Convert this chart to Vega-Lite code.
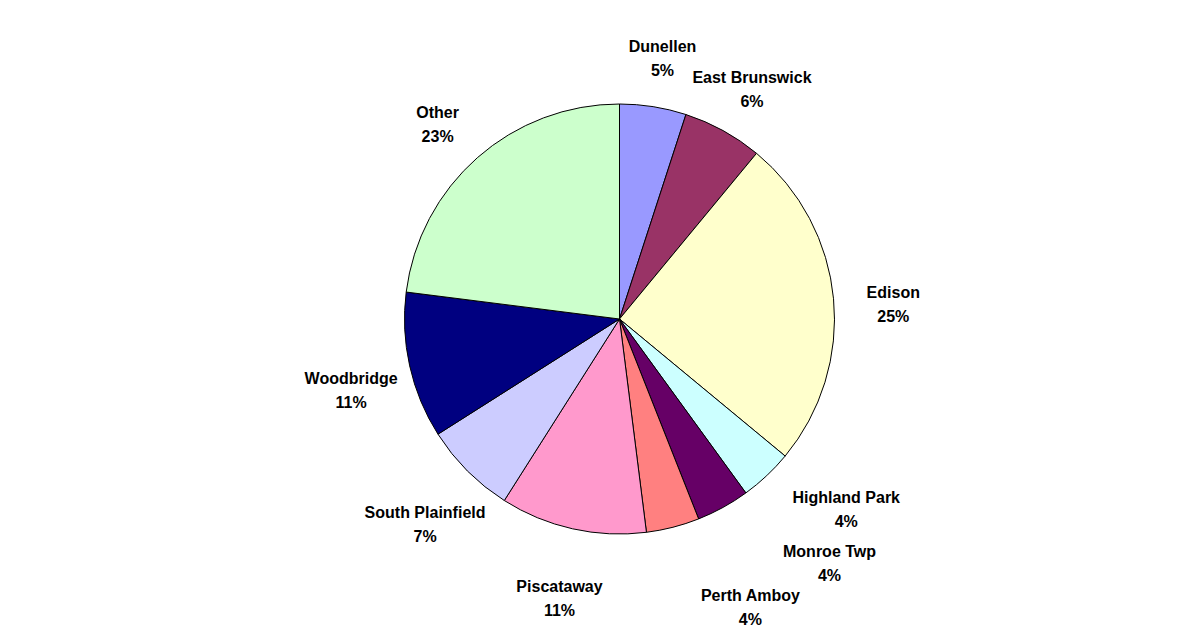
{
  "$schema": "https://vega.github.io/schema/vega-lite/v6.json",
  "width": 1179,
  "height": 638,
  "autosize": {"type": "fit", "contains": "padding"},
  "padding": {"left": 60, "top": 0, "right": 0, "bottom": 0},
  "background": "white",
  "view": {"stroke": null},
  "data": {
    "values": [
      {"idx": 1, "name": "Dunellen", "value": 5, "label": "Dunellen\n5%"},
      {"idx": 2, "name": "East Brunswick", "value": 6, "label": "East Brunswick\n6%"},
      {"idx": 3, "name": "Edison", "value": 25, "label": "Edison\n25%"},
      {"idx": 4, "name": "Highland Park", "value": 4, "label": "Highland Park\n4%"},
      {"idx": 5, "name": "Monroe Twp", "value": 4, "label": "Monroe Twp\n4%"},
      {"idx": 6, "name": "Perth Amboy", "value": 4, "label": "Perth Amboy\n4%"},
      {"idx": 7, "name": "Piscataway", "value": 11, "label": "Piscataway\n11%"},
      {"idx": 8, "name": "South Plainfield", "value": 7, "label": "South Plainfield\n7%"},
      {"idx": 9, "name": "Woodbridge", "value": 11, "label": "Woodbridge\n11%"},
      {"idx": 10, "name": "Other", "value": 23, "label": "Other\n23%"}
    ]
  },
  "encoding": {
    "theta": {"field": "value", "type": "quantitative", "stack": true},
    "order": {"field": "idx", "type": "quantitative"},
    "color": {
      "field": "name",
      "type": "nominal",
      "legend": null,
      "scale": {
        "domain": ["Dunellen", "East Brunswick", "Edison", "Highland Park", "Monroe Twp", "Perth Amboy", "Piscataway", "South Plainfield", "Woodbridge", "Other"],
        "range": ["#9999FF", "#993366", "#FFFFCC", "#CCFFFF", "#660066", "#FF8080", "#FF99CC", "#CCCCFF", "#000080", "#CCFFCC"]
      }
    }
  },
  "layer": [
    {"mark": {"type": "arc", "outerRadius": 215, "stroke": "black", "strokeWidth": 1}},
    {
      "mark": {"type": "text", "radius": 275, "font": "Liberation Sans", "fontWeight": "bold", "fontSize": 16, "lineBreak": "\n", "lineHeight": 24, "baseline": "middle"},
      "encoding": {
        "text": {"condition": {"test": "datum.name != 'Perth Amboy' && datum.name != 'Monroe Twp' && datum.name != 'Highland Park'", "field": "label"}, "value": ""},
        "color": {"value": "black"}
      }
    },
    {
      "mark": {"type": "text", "radius": 245, "align": "center", "dx": 59, "font": "Liberation Sans", "fontWeight": "bold", "fontSize": 16, "lineBreak": "\n", "lineHeight": 24, "baseline": "middle"},
      "encoding": {
        "text": {"condition": {"test": "datum.name == 'Highland Park'", "field": "label"}, "value": ""},
        "color": {"value": "black"}
      }
    },
    {
      "mark": {"type": "text", "radius": 245, "align": "center", "dx": 92, "dy": 18, "font": "Liberation Sans", "fontWeight": "bold", "fontSize": 16, "lineBreak": "\n", "lineHeight": 24, "baseline": "middle"},
      "encoding": {
        "text": {"condition": {"test": "datum.name == 'Monroe Twp'", "field": "label"}, "value": ""},
        "color": {"value": "black"}
      }
    },
    {
      "mark": {"type": "text", "radius": 245, "align": "center", "dx": 70, "dy": 40, "font": "Liberation Sans", "fontWeight": "bold", "fontSize": 16, "lineBreak": "\n", "lineHeight": 24, "baseline": "middle"},
      "encoding": {
        "text": {"condition": {"test": "datum.name == 'Perth Amboy'", "field": "label"}, "value": ""},
        "color": {"value": "black"}
      }
    }
  ]
}
